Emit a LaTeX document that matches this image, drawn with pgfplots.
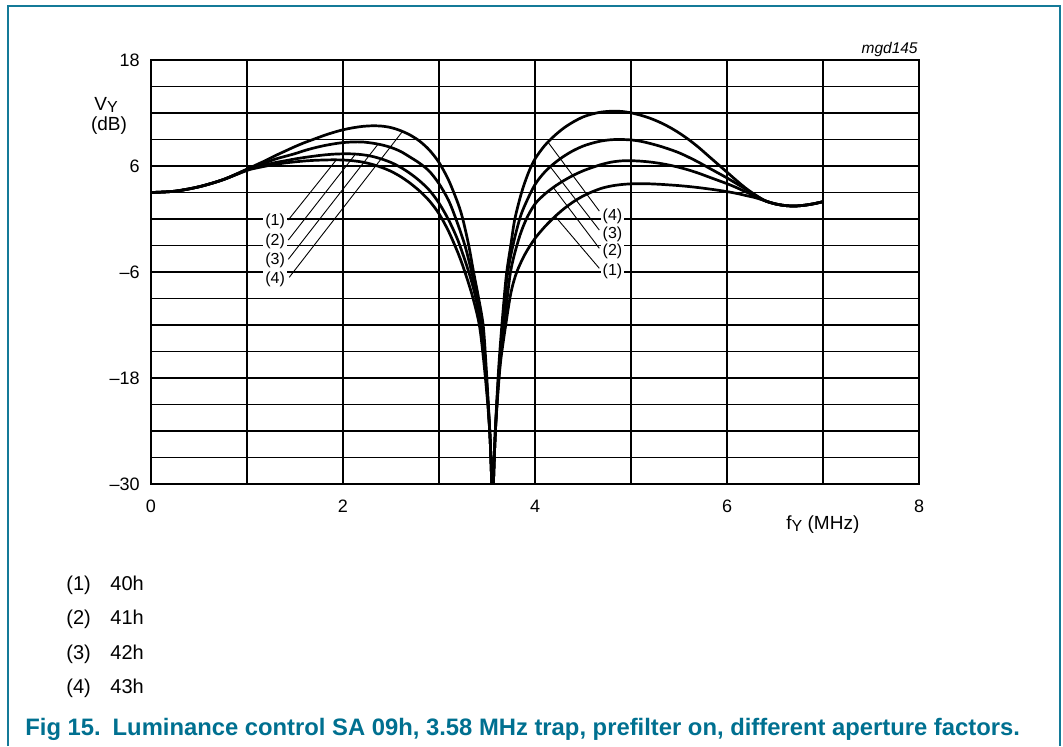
\documentclass[border=0pt]{standalone}
\usepackage{fontspec}
\setmainfont{Liberation Sans}
\usepackage{pgfplots}
\pgfplotsset{compat=1.18}
\definecolor{nxpblue}{RGB}{0,112,144}
\definecolor{framecol}{RGB}{20,122,152}

\begin{document}
\begin{tikzpicture}
\path[use as bounding box] (0,0) rectangle (531.5pt,-373pt);
% frame, open at the bottom
\draw[framecol, line width=1pt] (4pt,-373pt) -- (4pt,-3pt) -- (530pt,-3pt) -- (530pt,-373pt);

\begin{axis}[
    at={(75.5pt,-242pt)}, anchor=south west,
    scale only axis, width=384pt, height=212pt,
    xmin=0, xmax=8, ymin=-30, ymax=18,
    xtick={0,1,...,8}, xticklabels={0,,2,,4,,6,,8},
    ytick={-30,-27,...,18}, yticklabels={–30,,,,–18,,,,–6,,,,6,,,,18},
    grid=major, major tick length=0pt, tick style={draw=none},
    grid style={black, line width=0.55pt},
    axis line style={black, line width=0.6pt},
    ticklabel style={font=\fontsize{9}{10}\selectfont},
    yticklabel style={anchor=east, inner sep=0pt, xshift=-5.5pt},
    xticklabel style={anchor=north, inner sep=0pt, yshift=-8pt},
    curve/.style={black, line width=1.35pt, smooth, tension=0.5, mark=none},
]
% (1) 40h
\addplot[curve] coordinates {
 (0,3.0) (0.25,3.15) (0.5,3.65) (0.75,4.45) (1.0,5.5) (1.1,5.78) (1.2,6.0) (1.3,6.2)
 (1.4,6.35) (1.5,6.47) (1.6,6.57) (1.7,6.64) (1.8,6.68) (1.9,6.7) (2.0,6.68) (2.1,6.6)
 (2.2,6.45) (2.3,6.2) (2.4,5.85) (2.5,5.4) (2.6,4.8) (2.7,4.05) (2.8,3.15) (2.9,2.05)
 (3.0,0.6) (3.1,-1.4) (3.2,-3.9) (3.27,-6) (3.35,-8.8) (3.42,-12) (3.465,-16) (3.508,-21)
 (3.533,-25) (3.549,-30) (3.558,-36) (3.567,-30) (3.583,-25)
 (3.605,-21) (3.64,-16.3) (3.695,-12) (3.75,-8.3) (3.81,-6.0) (3.9,-3.9) (4.0,-2.2)
 (4.1,-0.9) (4.2,0.2) (4.3,1.15) (4.4,1.95) (4.5,2.6) (4.6,3.1) (4.7,3.5) (4.8,3.75)
 (4.9,3.9) (5.0,3.98) (5.1,4.0) (5.2,3.98) (5.3,3.93) (5.4,3.86) (5.5,3.78) (5.6,3.68)
 (5.7,3.56) (5.8,3.42) (5.9,3.27) (6.0,3.1) (6.1,2.9) (6.2,2.65) (6.3,2.4)
 (6.4,2.05) (6.5,1.72) (6.6,1.53) (6.7,1.47) (6.8,1.55) (6.9,1.72) (7.0,1.96)
};
% (2) 41h
\addplot[curve] coordinates {
 (0,3.0) (0.25,3.15) (0.5,3.65) (0.75,4.45) (1.0,5.55) (1.1,5.9) (1.2,6.15) (1.3,6.4)
 (1.4,6.6) (1.5,6.8) (1.6,6.97) (1.7,7.12) (1.8,7.25) (1.9,7.34) (2.0,7.38) (2.1,7.37)
 (2.2,7.28) (2.3,7.1) (2.4,6.8) (2.5,6.4) (2.6,5.85) (2.7,5.15) (2.8,4.3) (2.9,3.25)
 (3.0,1.8) (3.1,-0.1) (3.2,-2.5) (3.31,-6) (3.38,-8.8) (3.435,-12) (3.475,-16) (3.511,-21)
 (3.533,-25) (3.549,-30) (3.558,-36) (3.567,-30) (3.583,-25)
 (3.603,-21) (3.635,-16.3) (3.68,-12) (3.745,-6) (3.83,-2.3) (3.91,0) (4.0,1.7)
 (4.1,2.8) (4.2,3.65) (4.3,4.35) (4.4,4.95) (4.5,5.45) (4.6,5.85) (4.7,6.2) (4.8,6.45)
 (4.9,6.58) (5.0,6.6) (5.1,6.55) (5.2,6.45) (5.3,6.3) (5.4,6.1) (5.5,5.85) (5.6,5.55)
 (5.7,5.2) (5.8,4.8) (5.9,4.4) (6.0,4.0) (6.1,3.55) (6.2,3.05) (6.3,2.55)
 (6.4,2.05) (6.5,1.72) (6.6,1.53) (6.7,1.47) (6.8,1.55) (6.9,1.72) (7.0,1.96)
};
% (3) 42h
\addplot[curve] coordinates {
 (0,3.0) (0.25,3.15) (0.5,3.65) (0.75,4.45) (1.0,5.6) (1.1,6.0) (1.2,6.4) (1.3,6.8)
 (1.4,7.1) (1.5,7.4) (1.6,7.75) (1.7,8.05) (1.8,8.3) (1.9,8.5) (2.0,8.65) (2.1,8.72)
 (2.2,8.72) (2.3,8.6) (2.4,8.4) (2.5,8.1) (2.6,7.65) (2.7,7.0) (2.8,6.3) (2.9,5.4)
 (3.0,4.0) (3.1,2.1) (3.18,-0.1) (3.27,-3) (3.34,-6) (3.395,-8.8) (3.445,-12) (3.48,-16)
 (3.512,-21) (3.533,-25) (3.549,-30) (3.558,-36) (3.567,-30) (3.583,-25)
 (3.602,-21) (3.63,-16.3) (3.665,-12) (3.71,-6.5) (3.77,-3) (3.84,0)
 (3.9,1.7) (4.0,3.9) (4.1,5.3) (4.2,6.3) (4.3,7.1) (4.4,7.75) (4.5,8.25) (4.6,8.6)
 (4.7,8.85) (4.8,8.98) (4.9,9.0) (5.0,8.95) (5.1,8.8) (5.2,8.55) (5.3,8.25) (5.4,7.9)
 (5.5,7.5) (5.6,7.0) (5.7,6.45) (5.8,5.85) (5.9,5.25) (6.0,4.65) (6.1,4.0) (6.2,3.35)
 (6.3,2.65) (6.4,2.05) (6.5,1.72) (6.6,1.53) (6.7,1.47) (6.8,1.55) (6.9,1.72) (7.0,1.96)
};
% (4) 43h
\addplot[curve] coordinates {
 (0,3.0) (0.25,3.15) (0.5,3.65) (0.75,4.45) (1.0,5.65) (1.1,6.15) (1.2,6.65) (1.3,7.2)
 (1.4,7.7) (1.5,8.2) (1.6,8.65) (1.7,9.05) (1.8,9.45) (1.9,9.8) (2.0,10.1) (2.1,10.32)
 (2.2,10.48) (2.3,10.55) (2.4,10.52) (2.5,10.35) (2.6,10.0) (2.7,9.5) (2.8,8.8) (2.9,7.8)
 (3.0,6.4) (3.1,4.4) (3.2,1.7) (3.25,-0.1) (3.31,-3) (3.36,-6) (3.41,-8.8) (3.46,-12)
 (3.487,-16) (3.514,-21) (3.533,-25) (3.549,-30) (3.558,-36) (3.567,-30) (3.583,-25)
 (3.60,-21) (3.625,-16.3) (3.655,-12) (3.70,-6.5) (3.75,-2.8)
 (3.79,0) (3.86,3) (3.93,5.2) (4.0,6.8) (4.1,8.3) (4.2,9.4) (4.3,10.3) (4.4,11.0)
 (4.5,11.55) (4.6,11.9) (4.7,12.12) (4.8,12.2) (4.9,12.18) (5.0,12.02) (5.1,11.75)
 (5.2,11.4) (5.3,10.95) (5.4,10.4) (5.5,9.75) (5.6,9.0) (5.7,8.15) (5.8,7.2) (5.9,6.25)
 (6.0,5.3) (6.1,4.35) (6.2,3.45) (6.3,2.7) (6.4,2.05) (6.5,1.72) (6.6,1.53) (6.7,1.47)
 (6.8,1.55) (6.9,1.72) (7.0,1.96)
};

% curve labels and leader lines
\begin{scope}[line width=0.45pt]
\draw (axis cs:1.43,-0.11) -- (axis cs:1.93,6.69);
\draw (axis cs:1.43,-2.38) -- (axis cs:2.13,7.35);
\draw (axis cs:1.43,-4.56) -- (axis cs:2.365,8.47);
\draw (axis cs:1.44,-6.6) -- (axis cs:2.62,9.92);
\draw (axis cs:4.135,8.7) -- (axis cs:4.67,0.9);
\draw (axis cs:4.16,5.9) -- (axis cs:4.67,-1.25);
\draw (axis cs:4.19,3.57) -- (axis cs:4.67,-3.32);
\draw (axis cs:4.21,0.3) -- (axis cs:4.67,-5.58);
\end{scope}
\begin{scope}[every node/.style={fill=white, inner sep=1pt, font=\fontsize{8}{9}\selectfont}]
\node[anchor=east] at (axis cs:1.42,-0.30) {(1)};
\node[anchor=east] at (axis cs:1.42,-2.49) {(2)};
\node[anchor=east] at (axis cs:1.42,-4.64) {(3)};
\node[anchor=east] at (axis cs:1.42,-6.79) {(4)};
\node[anchor=west] at (axis cs:4.68,0.34) {(4)};
\node[anchor=west] at (axis cs:4.68,-1.73) {(3)};
\node[anchor=west] at (axis cs:4.68,-3.62) {(2)};
\node[anchor=west] at (axis cs:4.68,-5.89) {(1)};
\end{scope}
\end{axis}

% axis labels
\node[anchor=base west, inner sep=0pt, font=\fontsize{9.5}{10}\selectfont] at (47pt,-55pt)
  {V\raisebox{-1pt}{\fontsize{8}{8}\selectfont Y}};
\node[anchor=base west, inner sep=0pt, font=\fontsize{9.5}{10}\selectfont] at (45.3pt,-65.3pt) {(dB)};
\node[anchor=base west, inner sep=0pt, font=\fontsize{9.5}{10}\selectfont] at (393pt,-264.5pt)
  {f\raisebox{-1pt}{\fontsize{8}{8}\selectfont Y} (MHz)};
\node[anchor=base east, inner sep=0pt, font=\fontsize{7.75}{9}\itshape] at (459pt,-26.5pt) {mgd145};

% key
\begin{scope}[every node/.style={anchor=base west, inner sep=0pt, font=\fontsize{10}{12}\selectfont}]
\node at (33pt,-295pt) {(1)};    \node at (55pt,-295pt) {40h};
\node at (33pt,-312.25pt) {(2)}; \node at (55pt,-312.25pt) {41h};
\node at (33pt,-329.5pt) {(3)};  \node at (55pt,-329.5pt) {42h};
\node at (33pt,-346.75pt) {(4)}; \node at (55pt,-346.75pt) {43h};
\end{scope}

\node[anchor=base west, inner sep=0pt, text=nxpblue, font=\fontsize{11.9}{13}\bfseries] at (12.5pt,-367.5pt)
  {Fig 15.\hspace{0.5em}Luminance control SA 09h, 3.58 MHz trap, prefilter on, different aperture factors.};
\end{tikzpicture}
\end{document}
